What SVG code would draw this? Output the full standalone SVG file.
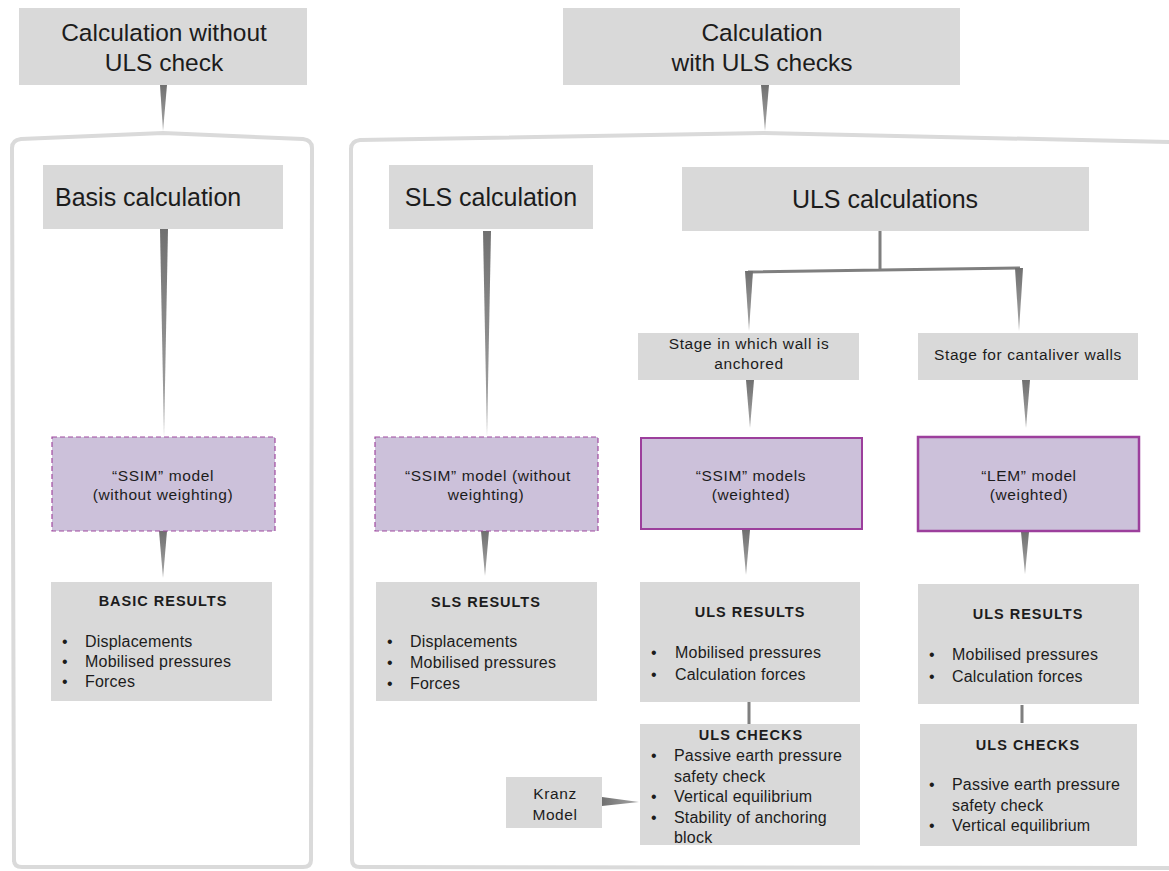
<svg xmlns="http://www.w3.org/2000/svg" width="1169" height="871" viewBox="0 0 1169 871">
<style>
text{font-family:"Liberation Sans",Arial,sans-serif;fill:#1c1c1c}
.box{fill:#d9d9d9}
.big{font-size:24.5px}
.mid{font-size:25px}
.sm{font-size:15.5px;letter-spacing:0.6px}
.li{font-size:16px;letter-spacing:0.2px}
.hd{font-size:14.5px;font-weight:bold;letter-spacing:1px}
.c{text-anchor:middle}
.dash{fill:#ccc1da;stroke:#a04aa0;stroke-width:1.2;stroke-dasharray:5,3}
.solid{fill:#ccc1da;stroke:#9c3f9c;stroke-width:2}
.frame{fill:none;stroke:#dadada;stroke-width:4}
.wedge{fill:url(#g)}
.line{stroke:#7f7f7f;stroke-width:3;fill:none}
</style>
<defs>
<linearGradient id="g" x1="0" y1="0" x2="0" y2="1">
<stop offset="0" stop-color="#707070"/>
<stop offset="1" stop-color="#a8a8a8"/>
</linearGradient>
<linearGradient id="gh" x1="0" y1="0" x2="1" y2="0">
<stop offset="0" stop-color="#707070"/>
<stop offset="1" stop-color="#a8a8a8"/>
</linearGradient>
</defs>
<rect width="1169" height="871" fill="#ffffff"/>

<g id="frames">
<path class="frame" d="M14,862 L12,148 Q12,140 21,139 L163,133 L303,139 Q312,140 312,148 L311,860 Q311,867 303,867 L22,867 Q14,867 14,860"/>
<path class="frame" d="M1169,142 L764,133 L360,140 Q351,141 351,149 L352,860 Q352,867 360,867 L1169,868"/>
</g>

<g id="connectors">
<polygon class="wedge" points="160,85 167,85 163,131"/>
<polygon class="wedge" points="761,85 769,85 765,131"/>
<polygon class="wedge" points="160,229 168,229 164,437"/>
<polygon class="wedge" points="159,531 167,531 163,578"/>
<polygon class="wedge" points="483,231 491,231 487,437"/>
<polygon class="wedge" points="481,531 489,531 485,576"/>
<path class="line" d="M880,231 L880,269 M748,272 L1020,268"/>
<polygon class="wedge" points="745,271 753,271 749,331"/>
<polygon class="wedge" points="1015,268 1023,268 1019,331"/>
<polygon class="wedge" points="746,380 754,380 750,428"/>
<polygon class="wedge" points="1022,380 1030,380 1026,428"/>
<polygon class="wedge" points="742,530 750,530 746,575"/>
<polygon class="wedge" points="1021,532 1029,532 1025,574"/>
<path class="line" d="M749,702 L749,724 M1022,705 L1022,723"/>
<polygon points="602,797 602,806 639,802" fill="url(#gh)"/>
</g>

<g id="top1">
<rect class="box" x="19" y="8" width="288" height="77"/>
<text class="big c" x="164" y="41">Calculation without</text>
<text class="big c" x="164" y="71">ULS check</text>
</g>
<g id="top2">
<rect class="box" x="563" y="8" width="397" height="77"/>
<text class="big c" x="762" y="41">Calculation</text>
<text class="big c" x="762" y="71">with ULS checks</text>
</g>

<g id="basis">
<rect class="box" x="43" y="165" width="240" height="64"/>
<text class="mid" x="55" y="206">Basis calculation</text>
</g>
<g id="ssim1">
<rect class="dash" x="52" y="437" width="223" height="94"/>
<text class="sm c" x="163" y="481">“SSIM”  model</text>
<text class="sm c" x="163" y="500">(without weighting)</text>
</g>
<g id="basic">
<rect class="box" x="51" y="582" width="221" height="119"/>
<text class="hd c" x="163" y="606">BASIC RESULTS</text>
<text class="li" x="62" y="647">•</text><text class="li" x="85" y="647">Displacements</text>
<text class="li" x="62" y="667">•</text><text class="li" x="85" y="667">Mobilised  pressures</text>
<text class="li" x="62" y="687">•</text><text class="li" x="85" y="687">Forces</text>
</g>

<g id="sls">
<rect class="box" x="389" y="165" width="204" height="64"/>
<text class="mid c" x="491" y="206">SLS calculation</text>
</g>
<g id="ssim2">
<rect class="dash" x="375" y="437" width="223" height="94"/>
<text class="sm c" x="488" y="481">“SSIM”  model (without</text>
<text class="sm c" x="486" y="500">weighting)</text>
</g>
<g id="slsres">
<rect class="box" x="376" y="582" width="221" height="119"/>
<text class="hd c" x="486" y="607">SLS RESULTS</text>
<text class="li" x="387" y="647">•</text><text class="li" x="410" y="647">Displacements</text>
<text class="li" x="387" y="668">•</text><text class="li" x="410" y="668">Mobilised  pressures</text>
<text class="li" x="387" y="689">•</text><text class="li" x="410" y="689">Forces</text>
</g>

<g id="uls">
<rect class="box" x="682" y="167" width="407" height="64"/>
<text class="mid c" x="885" y="208">ULS calculations</text>
</g>
<g id="stage1">
<rect class="box" x="638" y="333" width="221" height="47"/>
<text class="sm c" x="749" y="349">Stage in which wall is</text>
<text class="sm c" x="749" y="369">anchored</text>
</g>
<g id="stage2">
<rect class="box" x="918" y="333" width="220" height="47"/>
<text class="sm c" x="1028" y="360">Stage for cantaliver walls</text>
</g>
<g id="ssim3">
<rect class="solid" x="641" y="438" width="221" height="91"/>
<text class="sm c" x="751" y="481">“SSIM”  models</text>
<text class="sm c" x="751" y="500">(weighted)</text>
</g>
<g id="lem">
<rect class="solid" x="918" y="437" width="221" height="94" style="stroke-width:2.5"/>
<text class="sm c" x="1029" y="481">“LEM”  model</text>
<text class="sm c" x="1029" y="500">(weighted)</text>
</g>
<g id="ulsres1">
<rect class="box" x="640" y="582" width="220" height="120"/>
<text class="hd c" x="750" y="617">ULS RESULTS</text>
<text class="li" x="651" y="658">•</text><text class="li" x="675" y="658">Mobilised  pressures</text>
<text class="li" x="651" y="680">•</text><text class="li" x="675" y="680">Calculation  forces</text>
</g>
<g id="ulsres2">
<rect class="box" x="918" y="584" width="221" height="120"/>
<text class="hd c" x="1028" y="619">ULS RESULTS</text>
<text class="li" x="929" y="660">•</text><text class="li" x="952" y="660">Mobilised  pressures</text>
<text class="li" x="929" y="682">•</text><text class="li" x="952" y="682">Calculation  forces</text>
</g>
<g id="ulscheck1">
<rect class="box" x="640" y="724" width="220" height="121"/>
<text class="hd c" x="751" y="740">ULS CHECKS</text>
<text class="li" x="651" y="761">•</text><text class="li" x="674" y="761">Passive earth pressure</text>
<text class="li" x="674" y="782">safety check</text>
<text class="li" x="651" y="802">•</text><text class="li" x="674" y="802">Vertical equilibrium</text>
<text class="li" x="651" y="823">•</text><text class="li" x="674" y="823">Stability  of anchoring</text>
<text class="li" x="674" y="843">block</text>
</g>
<g id="ulscheck2">
<rect class="box" x="920" y="724" width="217" height="122"/>
<text class="hd c" x="1028" y="750">ULS CHECKS</text>
<text class="li" x="929" y="790">•</text><text class="li" x="952" y="790">Passive earth pressure</text>
<text class="li" x="952" y="811">safety check</text>
<text class="li" x="929" y="831">•</text><text class="li" x="952" y="831">Vertical equilibrium</text>
</g>
<g id="kranz">
<rect class="box" x="506" y="777" width="96" height="51"/>
<text class="sm c" x="555" y="799">Kranz</text>
<text class="sm c" x="555" y="820">Model</text>
</g>
</svg>
